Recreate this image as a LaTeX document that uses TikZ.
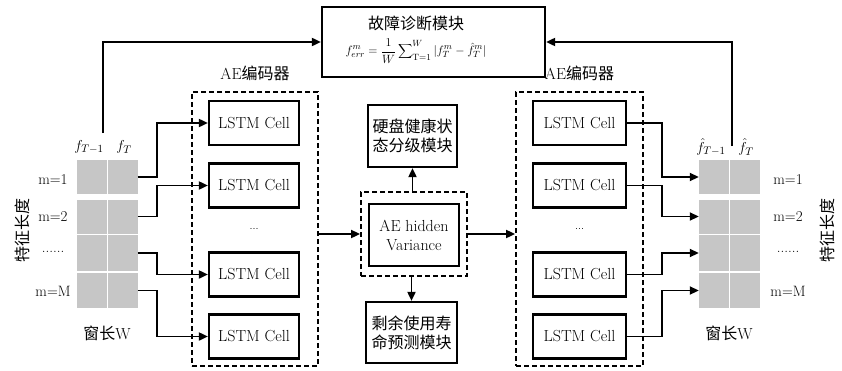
\documentclass[tikz,border=0pt]{standalone}
\usepackage{fontspec}
\newfontfamily\cjk{Noto Sans CJK SC}
\usetikzlibrary{arrows.meta,calc}
\begin{document}
\begin{tikzpicture}[x=1pt,y=-1pt,
  box/.style={draw,line width=2.2pt,inner sep=0pt,align=center},
  dbox/.style={draw,line width=1.8pt,dash pattern=on 5pt off 3pt,inner sep=0pt},
  cell/.style={fill=gray!45,inner sep=0pt,minimum width=29.5pt},
  arr/.style={line width=1.8pt,-{Triangle[length=9pt,width=8pt]}},
  lab/.style={font=\fontsize{15}{17}\selectfont,inner sep=0pt},
  cn/.style={font=\cjk\fontsize{16}{19}\selectfont,inner sep=0pt,align=center},
  lstm/.style={box,minimum height=44pt,font=\fontsize{16}{18}\selectfont}
]
\useasboundingbox (0,0) rectangle (842,370);

% ---------- grids ----------
\foreach \r/\y/\h in {1/177/34,2/216.5/34,3/253/36,4/290.5/35}{
  \node[cell,minimum height=\h pt] (l\r1) at (91.75,\y) {};
  \node[cell,minimum height=\h pt] (l\r2) at (122.75,\y) {};
  \node[cell,minimum height=\h pt] (r\r1) at (713.75,\y) {};
  \node[cell,minimum height=\h pt] (r\r2) at (744.75,\y) {};
}
\node[lab] (ml1) at (53,180) {m=1};
\node[lab] (ml2) at (53,217) {m=2};
\node[lab] (ml3) at (53,252) {......};
\node[lab] (ml4) at (53,291) {m=M};
\node[lab] (mr1) at (788,180) {m=1};
\node[lab] (mr2) at (788,217) {m=2};
\node[lab] (mr3) at (788,252) {......};
\node[lab] (mr4) at (788,291) {m=M};
\node[cn,rotate=90] (tzl) at (22,230) {特征长度};
\node[cn,rotate=90] (tzr) at (827,230) {特征长度};
\node[cn] (wl) at (107,333) {窗长{\rmfamily W}};
\node[cn] (wr) at (729,333) {窗长{\rmfamily W}};
\node[lab] (fl1) at (89,147) {$f_{T-1}$};
\node[lab] (fl2) at (124,147) {$f_{T}$};
\node[lab] (fr1) at (711,147) {$\hat f_{T-1}$};
\node[lab] (fr2) at (746,147) {$\hat f_{T}$};

% ---------- encoders ----------
\node[dbox,minimum width=126pt,minimum height=274pt] (ld) at (255,229) {};
\node[dbox,minimum width=127pt,minimum height=274pt] (rd) at (579.5,229) {};
\node[cn] (ael) at (255,73) {{\rmfamily AE}编码器};
\node[cn] (aer) at (579.5,73) {{\rmfamily AE}编码器};
\foreach \i/\y in {1/123,2/185.5,3/274.5,4/336.5}{
  \node[lstm,minimum width=90pt] (c\i) at (254,\y) {LSTM Cell};
  \node[lstm,minimum width=93pt] (d\i) at (579.5,\y) {LSTM Cell};
}
\node[font=\fontsize{11}{12}\selectfont] (dotl) at (254,229) {...};
\node[font=\fontsize{11}{12}\selectfont] (dotr) at (579.5,229) {...};

% ---------- middle ----------
\node[dbox,minimum width=106pt,minimum height=84pt] (md) at (414,234) {};
\node[box,minimum width=90pt,minimum height=62pt,font=\fontsize{16}{19}\selectfont] (hv) at (414,235) {AE hidden\\Variance};
\node[box,cn,minimum width=89pt,minimum height=62pt] (hl) at (412.5,136) {硬盘健康状\\态分级模块};
\node[box,cn,minimum width=91pt,minimum height=61pt] (rul) at (411.5,332.5) {剩余使用寿\\命预测模块};

% ---------- fault box ----------
\node[box,minimum width=223pt,minimum height=70pt] (fault) at (433.5,42) {};
\node[cn] (ft) at (416,23) {故障诊断模块};
\node[font=\fontsize{13}{15}\selectfont,inner sep=0pt] (fm) at (416,51)
  {$\displaystyle f^{m}_{err}=\frac{1}{W}\sum\nolimits_{\mathrm{T}=1}^{W}|f^{m}_{T}-\hat f^{m}_{T}|$};

% ---------- connectors ----------
\coordinate (xl) at (157,0);
\coordinate (xr) at (662,0);
\foreach \i in {1,2,3,4}{
  \draw[arr] (l\i2.east) -- (l\i2.east -| xl) |- (c\i.west);
  \draw[arr] (d\i.east) -- (d\i.east -| xr) |- (r\i1.west);
}
\draw[arr] (ld.east |- md.west) -- (md.west);
\draw[arr] (md.east) -- (md.east -| rd.west);
\draw[arr] (md.north -| hl.south) -- (hl.south);
\draw[arr] (md.south -| rul.north) -- (rul.north);

\coordinate (ls) at (103,133);
\coordinate (rs) at (732,146);
\draw[arr] (ls) |- (fault.west);
\draw[arr] (rs) |- (fault.east);
\end{tikzpicture}
\end{document}
